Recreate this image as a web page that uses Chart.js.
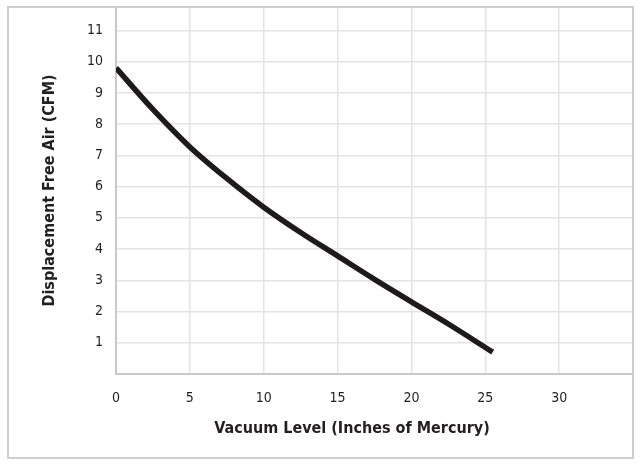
<!DOCTYPE html>
<html>
<head>
<meta charset="utf-8">
<script src="https://cdn.jsdelivr.net/npm/chart.js@4.4.1/dist/chart.umd.min.js"></script>
<style>
  html, body { margin: 0; padding: 0; background: #fff; }
  #wrap { width: 640px; height: 465px; position: relative; }
</style>
</head>
<body>
<div id="wrap"><canvas id="chart" width="640" height="465"></canvas></div>
<script>
// vacuum level (inHg) vs displacement free air (CFM)
var vacuum = [0, 2.5, 5, 7.5, 10, 12.5, 15, 17.5, 20, 22.5, 25.5];
var cfm = [9.8, 8.47, 7.27, 6.26, 5.34, 4.53, 3.78, 3.03, 2.31, 1.6, 0.7];
var xTicks = [0, 5, 10, 15, 20, 25, 30];
var yTicks = [1, 2, 3, 4, 5, 6, 7, 8, 9, 10, 11];
var xTitle = 'Vacuum Level (Inches of Mercury)';
var yTitle = 'Displacement Free Air (CFM)';

var fam = '"Liberation Sans Narrow", "DejaVu Sans Condensed", "Liberation Sans", sans-serif';

var points = [];
for (var i = 0; i < vacuum.length; i++) {
  points.push({ x: vacuum[i], y: cfm[i] });
}

// outer frame + axis titles
var decor = {
  id: 'decor',
  afterDraw: function (chart) {
    var ctx = chart.ctx;
    var a = chart.chartArea;
    ctx.save();
    ctx.strokeStyle = '#cfcfcf';
    ctx.lineWidth = 2;
    ctx.strokeRect(8, a.top, a.right - 8, 458 - a.top);
    ctx.fillStyle = '#231f20';
    ctx.font = 'bold 16px ' + fam;
    ctx.textAlign = 'center';
    ctx.textBaseline = 'middle';
    ctx.fillText(xTitle, 352, 429);
    ctx.translate(50, (a.top + a.bottom) / 2);
    ctx.rotate(-Math.PI / 2);
    ctx.fillText(yTitle, 0, 0);
    ctx.restore();
  }
};

var ctx = document.getElementById('chart').getContext('2d');
var ans = new Chart(ctx, {
  type: 'scatter',
  data: {
    datasets: [{
      label: 'CFM',
      data: points,
      showLine: true,
      borderColor: '#1c1a1b',
      borderWidth: 5.5,
      pointRadius: 0,
      cubicInterpolationMode: 'monotone',
      fill: false
    }]
  },
  options: {
    responsive: false,
    animation: false,
    layout: { padding: { left: 0, top: 7, right: 7, bottom: 0 } },
    plugins: { legend: { display: false }, tooltip: { enabled: false } },
    scales: {
      x: {
        type: 'linear',
        min: 0,
        max: 35,
        afterFit: function (s) { s.height = 91; s.paddingLeft = 0; s.paddingRight = 0; },
        afterBuildTicks: function (s) { s.ticks = xTicks.map(function (v) { return { value: v }; }); },
        grid: { color: '#e3e3e3', lineWidth: 1.5, drawTicks: false },
        border: { color: '#c9c9c9', width: 2 },
        ticks: { color: '#231f20', font: { family: fam, size: 14 }, padding: 16 }
      },
      y: {
        type: 'linear',
        min: 0,
        max: 11.75,
        afterFit: function (s) { s.width = 116; s.paddingTop = 0; s.paddingBottom = 0; },
        afterBuildTicks: function (s) { s.ticks = yTicks.map(function (v) { return { value: v }; }); },
        grid: { color: '#e3e3e3', lineWidth: 1.5, drawTicks: false },
        border: { color: '#c9c9c9', width: 2 },
        ticks: { color: '#231f20', font: { family: fam, size: 14 }, padding: 13 }
      }
    }
  },
  plugins: [decor]
});
</script>
</body>
</html>
